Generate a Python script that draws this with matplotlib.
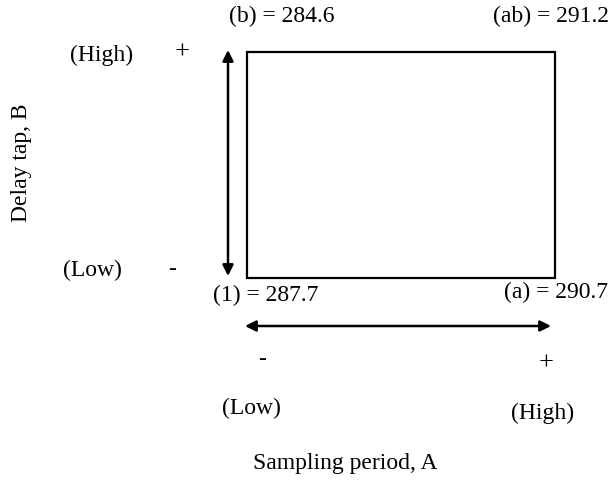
import matplotlib
matplotlib.use("Agg")
import matplotlib.pyplot as plt
from matplotlib.patches import Rectangle

# Factorial design corners: (A level, B level, label, response)
corner_labels = ["(1)", "(a)", "(b)", "(ab)"]
a_levels = [-1, 1, -1, 1]
b_levels = [-1, -1, 1, 1]
responses = [287.7, 290.7, 284.6, 291.2]
factor_a = "Sampling period, A"
factor_b = "Delay tap, B"
level_names = ["(Low)", "(High)"]
level_signs = ["-", "+"]

plt.rcParams['font.family'] = ['Liberation Serif', 'DejaVu Serif']
fig = plt.figure(figsize=(6.11, 5.01), dpi=100)
ax = fig.add_axes([0, 0, 1, 1])
# square geometry: level -1..+1 mapped to the frame
SX0, SX1 = 247, 555
SY0, SY1 = 278, 52
ax.set_xlim((-1) - 2 * SX0 / (SX1 - SX0), 1 + 2 * (611 - SX1) / (SX1 - SX0))
ax.set_ylim((-1) - 2 * (501 - SY0) / (SY0 - SY1), 1 + 2 * SY1 / (SY0 - SY1))
ax.axis('off')


def P(px, py):
    """layout helper: pixel position -> data position"""
    x = -1 + 2 * (px - SX0) / (SX1 - SX0)
    y = -1 + 2 * (SY0 - py) / (SY0 - SY1)
    return x, y


fs = 17
ax.add_patch(Rectangle((min(a_levels), min(b_levels)),
                       max(a_levels) - min(a_levels), max(b_levels) - min(b_levels),
                       fill=False, edgecolor='black', linewidth=1.6))

# corner labels (pixel anchor positions)
anchors = {(-1, -1): (266, 295, 'center'), (1, -1): (608, 292, 'right'),
           (-1, 1): (282, 16, 'center'), (1, 1): (609, 16, 'right')}
for lab, a, b, r in zip(corner_labels, a_levels, b_levels, responses):
    px, py, ha = anchors[(a, b)]
    ax.text(*P(px, py), f"{lab} = {r}", ha=ha, va='center', fontsize=fs)

arrow_kw = dict(arrowstyle='<|-|>', color='black', lw=1.8,
                mutation_scale=16, shrinkA=0, shrinkB=0)
# vertical arrow (B)
ax.annotate("", xy=P(228, 50), xytext=P(228, 276), arrowprops=arrow_kw)
# horizontal arrow (A)
ax.annotate("", xy=P(245, 326), xytext=P(551, 326), arrowprops=arrow_kw)

# B level labels
ax.text(*P(102, 55), level_names[1], ha='center', va='center', fontsize=fs)
ax.text(*P(182, 53), level_signs[1], ha='center', va='center', fontsize=fs + 2)
ax.text(*P(92, 270), level_names[0], ha='center', va='center', fontsize=fs)
ax.text(*P(172, 270), level_signs[0], ha='center', va='center', fontsize=fs)

# A level labels
ax.text(*P(262, 360), level_signs[0], ha='center', va='center', fontsize=fs)
ax.text(*P(546, 364), level_signs[1], ha='center', va='center', fontsize=fs + 2)
ax.text(*P(251, 408), level_names[0], ha='center', va='center', fontsize=fs)
ax.text(*P(543, 413), level_names[1], ha='center', va='center', fontsize=fs)

# axis titles
ax.text(*P(345, 464), factor_a, ha='center', va='center', fontsize=fs)
ax.text(*P(21, 163), factor_b, ha='center', va='center', fontsize=fs, rotation=90)

fig.savefig("out.png", dpi=100)
